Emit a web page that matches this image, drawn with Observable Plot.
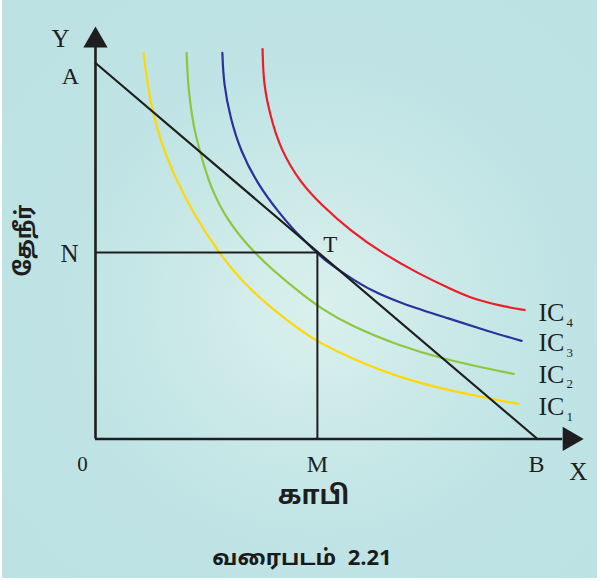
<!DOCTYPE html>
<html>
<head>
<meta charset="utf-8">
<script src="https://cdn.jsdelivr.net/npm/d3@7"></script>
<script src="https://cdn.jsdelivr.net/npm/@observablehq/plot@0.6"></script>
<style>
  html, body { margin: 0; padding: 0; background: #ffffff; }
  #wrap { position: relative; width: 600px; height: 581px; overflow: hidden; }
  #bg { position: absolute; left: 2px; top: 0; width: 595px; height: 578px;
        background: radial-gradient(ellipse 62% 62% at 53% 53%, #daf1ed 0%, #cbe9e8 35%, #c0e4e5 65%, #bce2e4 100%); }
  #chart { position: absolute; left: 0; top: 0; }
  #caption { position: absolute; left: 0; top: 534px; width: 600px; height: 51px;
             text-align: center; white-space: pre; font-family: "Noto Sans Tamil", "Lohit Tamil", "Noto Sans", "DejaVu Sans", sans-serif;
             font-weight: bold; font-size: 22px; line-height: 51px; color: #1a1a1a; padding-left: 4px; box-sizing: border-box; }
</style>
</head>
<body>
<div id="wrap">
  <div id="bg"></div>
  <div id="chart"></div>
  <div id="caption"></div>
</div>
<script>
// ---- data (economic units: A = 10 on Y, B = 10 on X) ----
const captionText = "வரைபடம்  2.21";
const xTitle = "காபி";
const yTitle = "தேநீர்";

const budgetA = 10;   // intercept on Y (tea)
const budgetB = 10;   // intercept on X (coffee)
const equilibrium = {x: 5.02, y: 4.96}; // point T

const ic1 = [[1.086,10.27],[1.176,9.44],[1.29,8.72],[1.47,7.93],[1.76,7.05],[2.22,5.98],[2.76,5.00],[3.44,3.99],[4.64,2.87],[5.09,2.55],[5.77,2.15],[6.90,1.62],[8.03,1.28],[9.00,1.06],[9.57,0.93]];
const ic2 = [[2.06,10.27],[2.10,9.26],[2.22,8.27],[2.38,7.58],[2.60,6.68],[2.99,5.80],[3.51,5.05],[4.03,4.47],[4.64,3.88],[5.09,3.48],[5.77,3.01],[6.90,2.47],[7.81,2.15],[8.78,1.89],[9.46,1.73]];
const ic3 = [[2.87,10.27],[2.90,9.44],[3.05,8.54],[3.28,7.66],[3.67,6.78],[4.12,6.06],[4.64,5.35],[5.02,4.96],[5.09,4.84],[5.77,4.28],[6.22,3.96],[6.90,3.61],[8.03,3.19],[8.87,2.87],[9.64,2.61]];
const ic4 = [[3.78,10.37],[3.80,9.44],[3.96,8.56],[4.19,7.69],[4.64,6.81],[5.09,6.25],[5.77,5.53],[6.52,4.92],[7.29,4.41],[8.03,3.99],[8.55,3.72],[9.16,3.54],[9.71,3.43]];
const icNames = ["IC", "IC", "IC", "IC"];
const icSubs = ["1", "2", "3", "4"];
const icColors = ["#ffd800", "#8dc63f", "#2b3199", "#ee1c25"];
const icLabelY = [0.86, 1.72, 2.55, 3.36];
const icLabelX = 10.02;

const axisYEnd = 10.41;
const axisXEnd = 10.57;

// ---- build tables ----
const curves = [ic1, ic2, ic3, ic4].flatMap((pts, i) => pts.map(([x, y]) => ({x, y, k: i})));
const budget = [{x: 0, y: budgetA}, {x: budgetB, y: 0}];
const labelsIC = icNames.map((n, i) => ({x: icLabelX, y: icLabelY[i], n, s: icSubs[i]}));

const serif = "'Liberation Serif', 'Times New Roman', 'DejaVu Serif', serif";
const tamil = "'Noto Sans Tamil', 'Lohit Tamil', 'Noto Sans', 'DejaVu Sans', sans-serif";
const ink = "#1e1e1e";

const plot = Plot.plot({
  width: 600, height: 530,
  marginTop: 0, marginRight: 0, marginBottom: 0, marginLeft: 0,
  x: {domain: [-2.149, 11.425], axis: null},
  y: {domain: [-2.434, 11.662], axis: null},
  style: {background: "transparent", overflow: "visible"},
  marks: [
    // axes
    Plot.ruleX([0], {y1: 0, y2: axisYEnd, stroke: ink, strokeWidth: 2.6}),
    Plot.ruleY([0], {x1: 0, x2: axisXEnd, stroke: ink, strokeWidth: 2.6}),
    Plot.dot([{x: 0, y: axisYEnd}], {x: "x", y: "y", symbol: "triangle", r: 9, fill: ink, stroke: null, dy: -7}),
    Plot.dot([{x: axisXEnd, y: 0}], {x: "x", y: "y", symbol: "triangle", r: 9, fill: ink, stroke: null, rotate: 90, dx: 7}),
    // indifference curves
    Plot.line(curves, {x: "x", y: "y", z: "k", stroke: d => icColors[d.k], strokeWidth: 2.2, curve: "basis"}),
    // budget line
    Plot.line(budget, {x: "x", y: "y", stroke: ink, strokeWidth: 2.2}),
    // N and M guide lines
    Plot.ruleY([equilibrium], {y: "y", x1: 0, x2: "x", stroke: ink, strokeWidth: 2}),
    Plot.ruleX([equilibrium], {x: "x", y1: 0, y2: "y", stroke: ink, strokeWidth: 2}),
    // point labels
    Plot.text([{x: 0, y: axisYEnd}], {x: "x", y: "y", text: () => "Y", dx: -35, dy: -8.5, fontFamily: serif, fontSize: 25, fill: ink}),
    Plot.text([{x: 0, y: budgetA}], {x: "x", y: "y", text: () => "A", dx: -25, dy: 13, fontFamily: serif, fontSize: 24, fill: ink}),
    Plot.text([equilibrium], {x: 0, y: "y", text: () => "N", dx: -26, dy: 1.5, fontFamily: serif, fontSize: 25, fill: ink}),
    Plot.text([equilibrium], {x: "x", y: "y", text: () => "T", dx: 13, dy: -8, fontFamily: serif, fontSize: 23, fill: ink}),
    Plot.text([{x: 0, y: 0}], {x: "x", y: "y", text: () => "0", dx: -13, dy: 25, fontFamily: serif, fontSize: 21, fill: ink}),
    Plot.text([equilibrium], {x: "x", y: 0, text: () => "M", dx: 0, dy: 25, fontFamily: serif, fontSize: 24, fill: ink}),
    Plot.text([{x: budgetB, y: 0}], {x: "x", y: "y", text: () => "B", dx: -1, dy: 25, fontFamily: serif, fontSize: 24, fill: ink}),
    Plot.text([{x: axisXEnd, y: 0}], {x: "x", y: "y", text: () => "X", dx: 15.5, dy: 33, fontFamily: serif, fontSize: 25, fill: ink}),
    // IC labels with subscripts
    Plot.text(labelsIC, {x: "x", y: "y", text: "n", textAnchor: "start", fontFamily: serif, fontSize: 26, fill: ink}),
    Plot.text(labelsIC, {x: "x", y: "y", text: "s", textAnchor: "start", dx: 28, dy: 10, fontFamily: serif, fontSize: 13, fill: ink}),
    // axis titles
    Plot.text([xTitle], {frameAnchor: "bottom", lineAnchor: "middle", text: d => d, dx: 13, dy: -35, fontFamily: tamil, fontWeight: "bold", fontSize: 26, fill: ink}),
    Plot.text([yTitle], {frameAnchor: "left", textAnchor: "middle", text: d => d, rotate: -90, dx: 23, dy: -25, fontFamily: tamil, fontWeight: "bold", fontSize: 22, fill: ink})
  ]
});
document.getElementById("chart").appendChild(plot);
document.getElementById("caption").textContent = captionText;
</script>
</body>
</html>
